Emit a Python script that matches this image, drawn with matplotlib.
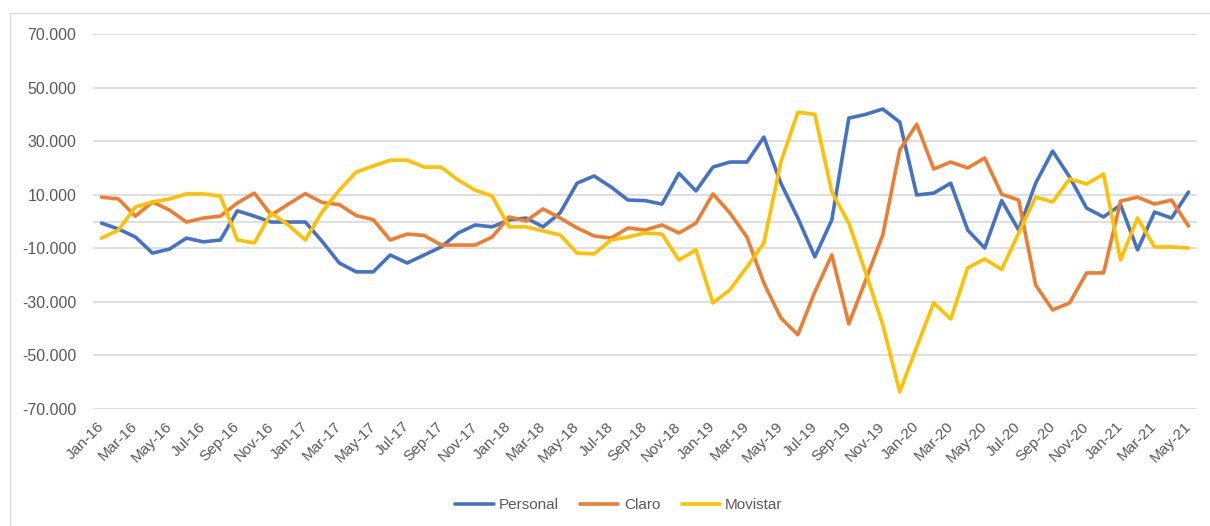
import numpy as np
import pandas as pd
import matplotlib
matplotlib.use("Agg")
import matplotlib.pyplot as plt
from matplotlib.patches import Rectangle
from matplotlib.ticker import FuncFormatter

# months Jan-16 .. May-21
months = pd.date_range("2016-01-01", "2021-05-01", freq="MS").strftime("%b-%y").tolist()

# values in thousands
personal = [-0.6, -2.8, -5.8, -11.8, -10.3, -6.2, -7.6, -6.9, 4.0, 2.0, -0.2, -0.2, -0.2,
            -7.5, -15.5, -18.8, -18.8, -12.5, -15.5, -12.5, -9.5, -4.3, -1.3, -2.0, 0.6,
            1.3, -2.0, 3.2, 14.3, 17.0, 12.9, 8.0, 7.8, 6.5, 18.0, 11.4, 20.3, 22.2, 22.2,
            31.5, 14.3, 1.3, -13.2, 0.6, 38.6, 40.0, 42.0, 37.1, 9.9, 10.6, 14.3, -3.2,
            -9.9, 7.8, -3.2, 14.3, 26.3, 16.6, 5.0, 1.7, 6.2, -10.6, 3.5, 1.3, 11.0]
claro = [9.1, 8.4, 2.0, 7.3, 4.3, -0.2, 1.3, 2.0, 6.9, 10.6, 2.4, 6.5, 10.4,
         7.1, 6.3, 2.2, 0.7, -6.9, -4.7, -5.2, -8.8, -8.8, -8.8, -5.8, 1.7,
         0.2, 4.7, 1.3, -2.4, -5.4, -6.2, -2.4, -3.2, -1.3, -4.3, -0.6, 10.3, 3.2, -5.8,
         -23.0, -36.0, -42.3, -26.3, -12.5, -38.2, -21.8, -5.0, 26.7, 36.3, 19.6, 22.2, 20.0,
         23.7, 10.2, 8.0, -23.7, -33.0, -30.4, -19.2, -19.2, 7.6, 9.1, 6.5, 8.0, -1.7]
movistar = [-6.2, -3.2, 5.4, 7.3, 8.4, 10.3, 10.3, 9.5, -6.9, -8.0, 3.2, -1.3, -6.9,
            3.7, 11.7, 18.5, 20.7, 22.9, 22.9, 20.3, 20.3, 15.5, 11.7, 9.5, -2.0,
            -2.0, -3.5, -5.0, -11.8, -12.1, -6.9, -5.8, -4.3, -4.7, -14.4, -10.6, -30.4, -25.5, -17.0,
            -8.0, 22.2, 40.8, 40.0, 11.0, -0.6, -19.2, -38.6, -63.6, -46.8, -30.4, -36.4, -17.3,
            -14.0, -17.9, -4.3, 9.1, 7.3, 15.9, 14.0, 17.7, -14.4, 1.3, -9.5, -9.5, -9.9]

series = [("Personal", personal, "#4472C4"),
          ("Claro", claro, "#ED7D31"),
          ("Movistar", movistar, "#FFC000")]

plt.rcParams["font.family"] = ["Liberation Sans", "DejaVu Sans"]

fig = plt.figure(figsize=(12.1, 5.26), dpi=100)
ax = fig.add_axes([93 / 1210, 1 - 409 / 526, (1197 - 93) / 1210, (409 - 34) / 526])

x = np.arange(len(months))
for name, vals, color in series:
    ax.plot(x, np.array(vals) * 1000, color=color, lw=2.6, label=name,
            solid_joinstyle="round", solid_capstyle="round", zorder=3)

ax.set_xlim(-0.5, len(months) - 0.5)
ax.set_ylim(-70000, 70000)
ax.set_yticks(np.arange(-70000, 70001, 20000))
ax.yaxis.set_major_formatter(FuncFormatter(lambda v, p: f"{v:,.0f}".replace(",", ".")))
ax.grid(axis="y", color="#d9d9d9", lw=1.2, zorder=0)
ax.axhline(0, color="#d9d9d9", lw=1.2, zorder=1)

ax.set_xticks(x[::2])
ax.set_xticklabels(months[::2], rotation=45, ha="right", va="center",
                   rotation_mode="anchor")
ax.tick_params(axis="x", length=0, pad=11, labelsize=11, labelcolor="#595959")
ax.tick_params(axis="y", length=0, pad=12, labelsize=11.5, labelcolor="#595959")
for s in ax.spines.values():
    s.set_visible(False)

fig.legend(loc="center", bbox_to_anchor=(619 / 1210, 1 - 505 / 526), ncol=3,
           frameon=False, fontsize=11, handlelength=2.5, handletextpad=0.35,
           columnspacing=1.4, labelcolor="#595959")

# chart border
fig.add_artist(Rectangle((10 / 1210, -0.1), 1.2, 1 - 13 / 526 + 0.1,
                         transform=fig.transFigure, fill=False,
                         edgecolor="#d9d9d9", lw=1))

fig.savefig("out.png", dpi=100)
